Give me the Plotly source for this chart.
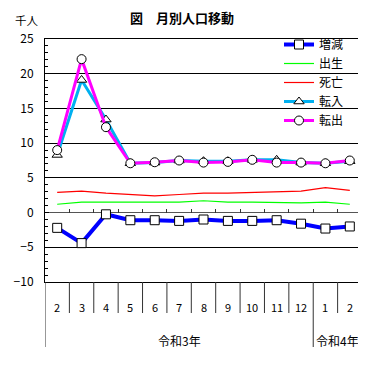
import plotly.graph_objects as go

months = ["2", "3", "4", "5", "6", "7", "8", "9", "10", "11", "12", "1", "2"]
years = ["令和3年", "令和4年"]
year_spans = [(0, 10), (11, 12)]
zougen = [-2.2, -4.4, -0.25, -1.1, -1.1, -1.2, -1.0, -1.2, -1.2, -1.1, -1.6, -2.3, -2.0]
shussei = [1.2, 1.5, 1.5, 1.5, 1.5, 1.5, 1.7, 1.5, 1.5, 1.4, 1.4, 1.5, 1.2]
shibou = [2.9, 3.1, 2.8, 2.6, 2.4, 2.6, 2.8, 2.8, 2.9, 3.1, 3.1, 3.6, 3.2]
tennyu = [8.3, 19.1, 13.4, 7.1, 7.2, 7.5, 7.4, 7.4, 7.6, 7.6, 7.2, 7.1, 7.4]
tenshutsu = [9.0, 22.1, 12.3, 7.1, 7.25, 7.5, 7.2, 7.3, 7.6, 7.2, 7.2, 7.1, 7.5]

JP = "Noto Sans CJK JP"
xs = list(range(len(months)))

# page body has an 8px margin: figure is sized/offset to compensate
W, H = 358, 365
ML, MT, MR, MB = 37, 31, 4, 91
PW, PH = W - ML - MR, H - MT - MB

fig = go.Figure()
mk = dict(color="white", line=dict(color="black", width=1))
fig.add_trace(go.Scatter(x=xs, y=zougen, name="増減", mode="lines+markers",
                         line=dict(color="#0000FF", width=4),
                         marker=dict(symbol="square", size=9, **mk)))
fig.add_trace(go.Scatter(x=xs, y=shussei, name="出生", mode="lines",
                         line=dict(color="#00FF00", width=1.2)))
fig.add_trace(go.Scatter(x=xs, y=shibou, name="死亡", mode="lines",
                         line=dict(color="#FF0000", width=1.2)))
fig.add_trace(go.Scatter(x=xs, y=tennyu, name="転入", mode="lines+markers",
                         line=dict(color="#00B0F0", width=3),
                         marker=dict(symbol="triangle-up", size=9, **mk)))
fig.add_trace(go.Scatter(x=xs, y=tenshutsu, name="転出", mode="lines+markers",
                         line=dict(color="#FF00FF", width=3),
                         marker=dict(symbol="circle", size=9, **mk)))
# invisible trace for the zero-line tick axis
fig.add_trace(go.Scatter(x=xs, y=[0] * len(xs), xaxis="x2", mode="lines",
                         line=dict(width=0), showlegend=False, hoverinfo="skip"))

n = len(months)
shapes = []
for i in range(n + 1):
    b = i - 0.5
    is_year = b in (-0.5, 10.5, 12.5)
    shapes.append(dict(type="line", xref="x", yref="paper", x0=b, x1=b,
                       y0=0, y1=(-65 / PH if is_year else -31 / PH),
                       line=dict(color="#333333", width=1)))

ann = []
for i, m in enumerate(months):
    ann.append(dict(x=i, y=-25 / PH, xref="x", yref="paper", text=m, showarrow=False,
                    xanchor="center", yanchor="middle",
                    font=dict(family=JP, size=11, color="black")))
for (a, b), t in zip(year_spans, years):
    ann.append(dict(x=(a + b) / 2, y=-58 / PH, xref="x", yref="paper", text=t,
                    showarrow=False, xanchor="center", yanchor="middle",
                    font=dict(family=JP, size=12, color="black")))
ann.append(dict(x=(26.5 - 8 - ML) / PW, y=1 + (MT - 12.5) / PH, xref="paper", yref="paper",
                text="千人", showarrow=False, xanchor="center", yanchor="middle",
                borderpad=0, font=dict(family=JP, size=11.5, color="black")))

fig.update_layout(
    width=W, height=H,
    margin=dict(l=ML, r=MR, t=MT, b=MB, autoexpand=False),
    paper_bgcolor="white", plot_bgcolor="white",
    title=dict(text="<b>図　月別人口移動</b>", x=(182 - 8) / W, xref="container",
               xanchor="center", y=1 - 10 / H, yref="container", yanchor="middle",
               font=dict(family=JP, size=13, color="black")),
    font=dict(family=JP, size=12, color="black"),
    showlegend=True,
    legend=dict(x=(271 - ML) / PW, xanchor="left", y=1 + 9 / PH, yanchor="top",
                bgcolor="rgba(0,0,0,0)",
                font=dict(family=JP, size=12, color="black"), tracegroupgap=0,
                itemwidth=30),
    xaxis=dict(range=[-0.5, n - 0.5], showticklabels=False, ticks="",
               showgrid=False, zeroline=False, showline=True, mirror=True,
               linecolor="black", linewidth=1),
    xaxis2=dict(range=[-0.5, n - 0.5], overlaying="x", anchor="free",
                position=10 / 35, side="bottom", showticklabels=False,
                tickvals=[i + 0.5 for i in range(n - 1)], ticks="inside",
                ticklen=4, tickcolor="#333333", showgrid=False, zeroline=False,
                showline=False),
    yaxis=dict(range=[-10, 25], tickvals=[-10, -5, 0, 5, 10, 15, 20, 25],
               ticktext=["−10", "−5", "0", "5", "10", "15", "20", "25"],
               ticks="inside", ticklen=4, tickcolor="black",
               minor=dict(dtick=1, ticks="inside", ticklen=3, tickcolor="black", showgrid=False),
               showgrid=True, gridcolor="black", gridwidth=1,
               zeroline=True, zerolinecolor="#555555", zerolinewidth=1,
               showline=True, mirror=True, linecolor="black", linewidth=1,
               ticklabelstandoff=8, tickfont=dict(family=JP, size=12)),
    shapes=shapes, annotations=ann,
)

fig.write_html("out.html")
